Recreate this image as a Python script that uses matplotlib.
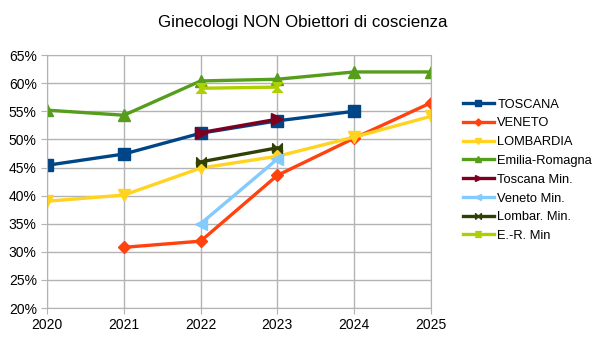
import matplotlib
matplotlib.use('Agg')
import matplotlib.pyplot as plt
from matplotlib.path import Path
from matplotlib.ticker import FuncFormatter

plt.rcParams['font.family'] = ['Liberation Sans', 'DejaVu Sans']

years = [2020, 2021, 2022, 2023, 2024, 2025]

toscana = [45.4, 47.4, 51.1, 53.3, 55.0, None]
veneto = [None, 30.8, 31.9, 43.6, 50.2, 56.5]
lombardia = [39.0, 40.1, 44.9, 47.0, 50.4, 54.1]
emilia = [55.2, 54.3, 60.4, 60.7, 62.0, 62.0]
toscana_min = [None, None, 51.2, 53.6, None, None]
veneto_min = [None, None, 35.0, 46.5, None, None]
lombar_min = [None, None, 46.0, 48.5, None, None]
er_min = [None, None, 59.1, 59.3, None, None]

labels = ['TOSCANA', 'VENETO', 'LOMBARDIA', 'Emilia-Romagna',
          'Toscana Min.', 'Veneto Min.', 'Lombar. Min.', 'E.-R. Min']
series = [toscana, veneto, lombardia, emilia, toscana_min, veneto_min, lombar_min, er_min]
colors = ['#004586', '#ff420e', '#ffd320', '#579d1c',
          '#7e0021', '#83caff', '#314004', '#aecf00']

bowtie = Path([(-1, -1), (-1, 1), (1, -1), (1, 1), (-1, -1)])
hourglass = Path([(-1, 1), (1, 1), (-1, -1), (1, -1), (-1, 1)])
markers = ['s', 'D', 'v', '^', '>', '<', bowtie, hourglass]
msizes = [8, 6, 8, 8, 8, 8, 7, 7]

fig = plt.figure(figsize=(6.05, 3.4), dpi=100)
ax = fig.add_axes([0.078, 0.094, 0.634, 0.744])

handles = []
for vals, lab, c, m, ms in zip(series, labels, colors, markers, msizes):
    xs = [x for x, v in zip(years, vals) if v is not None]
    ys = [v / 100 for v in vals if v is not None]
    h, = ax.plot(xs, ys, color=c, marker=m, markersize=ms, linewidth=2.4,
                 label=lab, markeredgecolor=c, markerfacecolor=c)
    handles.append(h)

ax.set_xlim(2020, 2025)
ax.set_ylim(0.20, 0.65)
ax.set_xticks(years)
ax.set_yticks([0.20 + 0.05 * i for i in range(10)])
ax.yaxis.set_major_formatter(FuncFormatter(lambda v, p: f'{round(v * 100)}%'))
ax.grid(True, color='#b3b3b3', linewidth=1)
ax.set_axisbelow(True)
for s in ax.spines.values():
    s.set_color('#b3b3b3')
ax.tick_params(colors='#b3b3b3', labelcolor='black', labelsize=10, length=4)

fig.suptitle('Ginecologi NON Obiettori di coscienza', fontsize=12.2, y=0.955)

fig.legend(handles=handles, loc='upper left', bbox_to_anchor=(0.756, 0.725),
           frameon=False, fontsize=9.3, handlelength=2.4, labelspacing=0.52,
           handletextpad=0.3, borderaxespad=0, markerscale=0.6)

fig.savefig('out.png', dpi=100)
